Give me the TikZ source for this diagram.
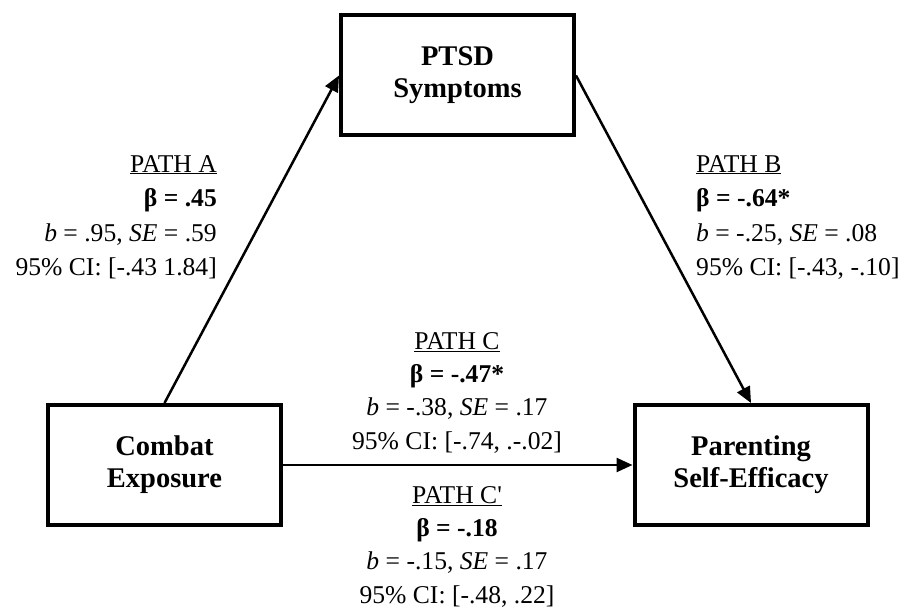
\documentclass[tikz,border=0pt]{standalone}
\usepackage{fontspec}
\setmainfont{Liberation Serif}
\usetikzlibrary{arrows.meta}
\tikzset{
  varbox/.style={draw=black, line width=4pt, fill=white, minimum width=233pt, minimum height=120pt,
    align=center, inner sep=0pt, font=\fontsize{28.5}{32}\selectfont\bfseries},
  pathlbl/.style={inner sep=0pt, font=\fontsize{25.6}{34.5}\selectfont},
  pathlblc/.style={inner sep=0pt, font=\fontsize{25.6}{33.3}\selectfont},
  conn/.style={line width=2.5pt, -{Triangle[length=16pt,width=14pt]}}
}
\begin{document}
\begin{tikzpicture}[x=1pt,y=-1pt]
\useasboundingbox (0,0) rectangle (904,609);
\node[varbox] (combat) at (164.5,465) {Combat\\Exposure};
\node[varbox] (ptsd) at (457.5,75.5) {PTSD\\Symptoms};
\node[varbox] (parent) at (751,465) {Parenting\\Self-Efficacy};

\draw[conn] (combat.north) -- (ptsd.west);
\draw[conn] (ptsd.east) -- (parent.north);
\draw[conn] (combat.east) -- (parent.west);

\node[pathlbl, align=right, anchor=north east] (lblA) at (217,155)
  {\underline{PATH A}\\ \textbf{β = .45}\\ \textit{b} = .95, \textit{SE} = .59\\ 95\% CI: [-.43 1.84]};
\node[pathlbl, align=left, anchor=north west] (lblB) at (696,155)
  {\underline{PATH B}\\ \textbf{β = -.64*}\\ \textit{b} = -.25, \textit{SE} = .08\\ 95\% CI: [-.43, -.10]};
\node[pathlblc, align=center, anchor=north] (lblC) at (457,332)
  {\underline{PATH C}\\ \textbf{β = -.47*}\\ \textit{b} = -.38, \textit{SE} = .17\\ 95\% CI: [-.74, .-.02]};
\node[pathlblc, align=center, anchor=north] (lblCp) at (457,486)
  {\underline{PATH C\textquotesingle}\\ \textbf{β = -.18}\\ \textit{b} = -.15, \textit{SE} = .17\\ 95\% CI: [-.48, .22]};
\end{tikzpicture}
\end{document}
